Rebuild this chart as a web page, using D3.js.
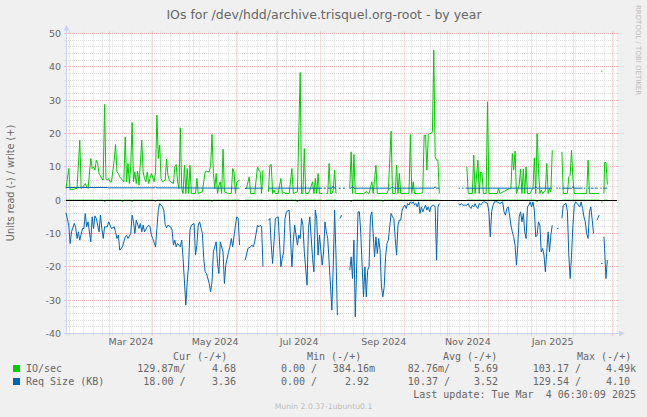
<!DOCTYPE html>
<html>
<head>
<meta charset="utf-8">
<script src="https://cdn.jsdelivr.net/npm/d3@7"></script>
<style>
    html, body { margin: 0; padding: 0; background: #F0F0F0; }
    svg { display: block; }
    text { font-family: "DejaVu Sans", sans-serif; fill: #666; }
    .mono { font-family: "DejaVu Sans Mono", monospace; white-space: pre; }
</style>
</head>
<body>
<svg id="chart" width="647" height="417"></svg>
<script>
// Time window of the year graph (400 days, ending at last update)
const startDate = new Date(2024, 0, 29, 6, 30);
const endDate = new Date(2025, 2, 4, 6, 30);

const yTicks = [-40, -30, -20, -10, 0, 10, 20, 30, 40, 50];
const labelMonths = [new Date(2024, 2, 1), new Date(2024, 4, 1), new Date(2024, 6, 1),
                     new Date(2024, 8, 1), new Date(2024, 10, 1), new Date(2025, 0, 1)];

// [day since start, value]; null = no data (breaks the line)
const ioWrite = [
    [0,3.5],[2,9.5],[3,3.2],[6,3.3],[8,3.6],[10,18],[11,3.5],[12,3.8],[14,5],[15,4],[16,3.5],[18,12.5],[19,9.5],[20,10],
    [21,9],[22,12],[23,11],[24,8],[26,6.5],[27,6],[28,28.7],[29,6.5],[30,6],[31,6.5],[32,5.5],[33,5.5],[35,12],[36,16.7],
    [37,8.5],[38,8],[39,7],[41,6],[42,5.5],[43,19],[44,5.5],[45,11],[46,5],[47,10.5],[48,23.3],[49,5.5],[50,8.5],[51,5],
    [52,8.7],[53,4.5],[55,18],[56,8.5],[57,6.5],[58,5.5],[59,8.5],[60,5],[61,6.5],[62,8],[64,5.5],[65,8.5],[66,25.5],
    [67,12.5],[68,16.5],[69,6.5],[70,5.5],[72,6],[73,12.3],[74,7.5],[75,6],[76,5.5],[78,5],[79,10],[80,10.7],[81,5.5],
    [82,3.5],[83,21.7],[84,3.5],[85,2],[86,10.5],[87,2],[88,9.5],[89,2],[90,10.5],[91,2],[94,2],[95,6.5],[96,2],[99,2.5],
    [101,8.5],[102,8.7],[104,8.5],[105,10.5],[106,19.7],[107,8],[108,3.5],[109,8],[110,2],[111,4.5],[112,5.5],[113,2],
    [114,15.3],[115,2.5],[118,2],[120,2],[121,9.5],[122,8.5],[123,2],[124,5.5],[126,6],
    null,
    [130,3.5],[131,3.5],[133,7],[134,2],[137,2],[139,10],[140,9],[141,8.5],[142,2],[143,9],
    null,
    [147,2.5],[148,10.5],[149,10.7],[150,2],[151,3],[152,2],[154,2],[156,6.5],[157,2],[158,2.5],[159,2],[162,2],[164,9.5],
    [165,2],[168,2.5],[170,38.3],[171,2],[172,2],[173,15.5],[174,2],[176,2],[177,3],[179,5.5],[180,2],[181,6.5],[182,2],
    [183,8],[184,2],[186,2],
    null,
    [189,2],[190,2],[191,11],[192,2],[193,2],[194,3],[195,9],[196,2],
    null,
    [206,3.5],[207,14.5],[208,2],[209,13.7],[210,2],[216,2],[218,2.5],[220,2],[222,5.5],[223,2],[225,10.5],[226,2],[233,2],
    [234,3],[236,20.7],[237,2],[239,2],[240,10.5],[241,2],[242,8],[243,2],[249,2],[250,19.7],[251,2],[252,5.5],[253,2],
    [258,2],[259,2.5],[260,19.5],[261,19.5],[262,9],[263,19.5],[264,20],[265,20],[266,20.5],[267,45],[268,13],[269,12],
    [270,12],[271,2],
    null,
    [291,10],[292,2],[295,2],[296,13.5],[297,2],[299,12],[300,2],[301,8.5],[302,8],[303,2],[305,2],[306,29.5],[307,2],
    [313,2],[314,3.5],[315,2],[322,3.5],[323,3.5],[324,14],[325,9],[326,14.7],[327,2],[329,4.5],[330,9.3],[331,2],[332,9.3],
    [333,2],[334,10],[335,2],[337,2],[338,3],[339,3.5],[340,12.7],[341,2],[342,20],[343,9.5],[344,2],[345,3],[346,2],
    [348,3],[349,11],[350,2],[351,3.5],[352,2.5],[353,15],
    null,
    [360,14.5],[361,2],[364,2],[365,7],[366,7.5],[367,15],[368,6.5],[369,2],[378,2],[379,12],[380,2],[387,2],
    null,
    [388.5,38.7],[389.5,38.7],
    null,
    [390.5,2],[391,11.3],[392,11.3],[393,4.7]
];

const ioRead = [
    [0,0],[27,0],[28,-0.5],[29,0],[40,0],[41,-0.5],[42,0],[47,0],[48,-0.4],[49,0],[64,0],[65,-0.5],[66,0],[105,0],
    [106,-0.4],[107,0],[126,0],
    null, [130,0],[143,0],
    null, [147,0],[167,0],[168,-0.5],[169,0],[186,0],
    null, [189,0],[196,0],
    null, [206,0],[207,-0.5],[208,0],[229,0],[230,-0.4],[231,0],[271,0],
    null, [291,0],[341,0],[342,-0.5],[343,0],[353,0],
    null, [360,0],[387,0],
    null, [388.5,-0.6],[389.5,-0.6],
    null, [390.5,0],[393,0]
];

const reqWrite = [
    [0,3.8],[30,3.8],[31,3.7],[64,3.7],[65,3.9],[66,3.7],[126,3.6],
    null, [130,3.6],[143,3.6],
    null, [147,3.6],[186,3.6],
    null, [187,3.6],[188.5,3.6],
    null, [190,3.6],[193,3.6],[194,4.2],[195,3.6],[196,3.6],
    null, [198,3.6],[199.5,3.6],
    null, [201,3.6],[202.5,3.6],
    null, [206,3.6],[207,3.6],[208,4.1],[209,3.6],[236,3.6],[237,4],[238,3.6],[267,3.6],[268,4],[269,3.6],[271,3.6],
    null, [285,3.6],[286,3.6],
    null, [287.5,3.6],[288.5,3.6],
    null, [290,3.6],[340,3.6],[341,4],[342,3.6],[353,3.6],
    null, [356,3.6],[357,3.6],
    null, [358,3.6],[359,3.6],
    null, [360,3.6],[367,3.6],[368,4],[369,3.6],[375,3.6],
    null, [376,3.6],[377,3.6],
    null, [379,3.6],[380,3.6],
    null, [381,3.6],[383,3.6],
    null, [384,3.6],[386,3.6],
    null, [388,3.6],[389,3.6],
    null, [390,3.6],[393,3.6]
];

const reqRead = [
    [0,-3.8],[2,-7.5],[3,-13],[4,-9.5],[6,-7],[7,-8],[8,-11.5],[9,-9.5],[10,-12],[12,-8.5],[13,-8.5],[14,-4],[15,-8],
    [16,-6.5],[18,-12.5],[19,-5],[20,-8.5],[21,-4.7],[22,-5.5],[24,-9.5],[25,-4.5],[26,-8.5],[27,-11.5],[28,-8],[30,-8],
    [31,-6.5],[32,-7.5],[33,-8.5],[35,-8],[36,-9.5],[37,-11.5],[38,-10.5],[39,-15],[41,-14],[42,-12.5],[43,-11],
    [44,-10.5],[45,-11.5],[47,-10],[48,-4.5],[49,-6.5],[50,-10],[51,-6],[53,-8.5],[54,-7],[55,-9.5],[56,-7.5],[57,-9.5],
    [59,-8],[60,-7.5],[61,-8],[62,-10.5],[63,-11.5],[65,-14],[66,-8.5],[67,-3],[68,-1],[70,-2],[71,-3],[72,-7.3],
    [73,-8.3],[74,-7.5],[76,-8],[77,-9],[78,-13.5],[79,-12],[80,-14],[81,-13],[82,-13.5],[83,-14],[84,-12],[85,-17.5],
    [87,-31.5],[88,-24.5],[89,-19.5],[90,-9],[91,-7.5],[93,-7],[94,-16.5],[95,-13.5],[96,-7.5],[97,-6.5],[99,-10],
    [100,-17.5],[101,-21.5],[102,-22],[104,-25],[105,-27.5],[106,-24.5],[107,-15.5],[109,-12.5],[110,-19],[111,-22],
    [112,-12.5],[114,-15.5],[115,-25],[116,-19.5],[118,-15.5],[119,-14],[120,-11.5],[121,-14],[123,-7.5],[124,-5],
    [125,-5.5],[126,-13.5],
    null,
    [130,-18],[131,-16.5],[132,-14.5],[134,-14],[135,-13.5],[136,-14],[137,-12.5],[139,-7.5],[140,-8],[141,-7.5],
    [142,-8],[143,-20],
    null,
    [147,-6],[148,-5.5],[149,-13.5],[150,-19],[151,-12.5],[152,-5.5],[154,-5],[155,-12.5],[156,-20],[157,-17.5],
    [158,-15.5],[159,-5.5],[160,-3.5],[162,-3],[163,-11.5],[164,-20],[165,-12.5],[166,-7.5],[168,-13.5],[169,-10.5],
    [170,-11.5],[171,-5.5],[172,-7.5],[173,-15.5],[175,-25.5],[176,-8.5],[177,-5],[179,-17.5],[180,-21.5],[181,-3],
    [182,-5.5],[183,-16.5],[184,-10.5],[186,-19.5],[187,-15.5],[188,-6.5],[189,-9.5],[190,-11.5],[192,-25.5],[193,-33],
    [194,-19.5],[195,-3],[196,-16.5],[197,-34.5],
    null,
    [199,-5.5],[200,-4.5],
    null,
    [206,-21],[207,-17],[208,-23.5],[209,-12],[210,-35],[211,-20],[212,-3.5],[213,-3.5],[214,-10],[215,-20],[216,-29],
    [217,-20],[218,-29],[219,-21],[220,-20],[221,-5],[222,-3.5],[223,-10],[224,-17],[225,-11],[226,-16],[227,-11.5],
    [228,-15],[229,-26],[230,-29],[231,-26],[232,-17],[233,-13],[234,-12],[235,-8],[236,-4],[237,-5],[238,-5.5],
    [239,-11.5],[240,-16.5],[241,-7.5],[242,-6],[243,-6],[244,-3],[245,-2],[246,-1.5],[247,-2.5],[248,-1],[249,-1.5],
    [250,-0.5],[251,-1],[252,-0.5],[253,-1.5],[254,-1],[255,-2],[256,-0.5],[257,-4],[258,-2],[259,-3.5],[260,-2.5],
    [261,-1.5],[262,-3],[263,-2],[264,-3.5],[265,-2],[266,-1.5],[267,-1.5],[268,-2],[269,-18],[270,-2],[271,-1],
    null,
    [285,-1],[286,-1.5],[287,-1],[288,-1.5],[289,-1.5],[290,-1.5],[291,-1.5],[292,-1],[293,-2],[294,-2.5],[295,-1.5],
    [296,-2],[297,-1],[298,-2],[299,-2.5],[300,-1],[301,-1.5],[302,-1],[303,-0.5],[304,-0.5],[306,-1],[307,-3.5],
    [308,-11],[309,-3.5],[310,-1.5],[311,-0.5],[313,-0.5],[315,-1],[317,-0.5],[318,-3.5],[319,-4.5],[320,-2.5],[321,-2],
    [322,-4.5],[323,-7.5],[324,-9.5],[325,-11],[326,-13.5],[327,-19.5],[328,-13.5],[329,-5],[330,-3.5],[331,-6.5],
    [332,-4],[333,-9.5],[334,-11.5],[335,-2],[336,-1.5],[337,-0.5],[338,-2],[339,-0.5],[340,-3],[341,-11],[342,-10.5],
    [343,-6.5],[344,-7.5],[345,-15.5],[346,-14.5],[347,-16.5],[348,-21.5],[349,-15.5],[350,-9.5],[351,-15.5],
    [352,-10.5],[353,-7.5],
    null,
    [356.5,-8.5],[357.5,-8.5],
    null,
    [360,-5.5],[361,-1.5],[363,-1],[364,-3.5],[365,-16.5],[366,-23.5],[367,-16.5],[368,-7.5],[369,-1.5],[370,-0.5],
    [371,-1],[373,-2],[374,-0.5],[375,-2.5],[376,-5],[377,-6.5],[378,-10],[379,-11.5],[380,-3.5],[381,-2],[382,-6],
    [383,-10],
    null,
    [385.5,-6],[387,-4.5],
    null,
    [388.5,-19],[389.5,-19],
    null,
    [390.5,-11],[391,-14.5],[392,-23.5],[393,-18]
];

// Legend (munin GPRINT columns)
const legendHeads = ["Cur (-/+)", "Min (-/+)", "Avg (-/+)", "Max (-/+)"];
const seriesNames = ["IO/sec", "Req Size (KB)"];
const seriesColors = ["#00CC00", "#0066B3"];
const ioStats = ["129.87m/", "4.68 ", "0.00 /", "384.16m", "82.76m/", "5.69 ", "103.17 /", "4.49k"];
const reqStats = ["18.00 /", "3.36 ", "0.00 /", "2.92 ", "10.37 /", "3.52 ", "129.54 /", "4.10 "];

const svg = d3.select("#chart");
const W = 647, H = 417;
const plotL = 66, plotR = 617, plotT = 33.5, plotB = 333.5;
const minorCol = "#dedede", majorCol = "#f2baba", axisCol = "#cbd2f6";

svg.append("rect").attr("width", W).attr("height", H).attr("fill", "#F0F0F0");
svg.append("rect").attr("x", plotL).attr("y", plotT).attr("width", plotR - plotL).attr("height", plotB - plotT)
    .attr("fill", "#fff");

const x = d3.scaleTime().domain([startDate, endDate]).range([plotL, plotR]);
const y = d3.scaleLinear().domain([-40, 50]).range([plotB, plotT]);
const snap = v => Math.round(v - 0.5) + 0.5;
const dayDate = d => new Date(+startDate + d * 864e5);

// Grid
const grid = svg.append("g");
d3.range(-40, 51, 2).forEach(v => {
    const major = v % 10 === 0;
    const yy = snap(y(v));
    const c = major ? majorCol : minorCol;
    grid.append("line").attr("x1", plotL).attr("x2", plotR).attr("y1", yy).attr("y2", yy)
        .attr("stroke", c).attr("stroke-dasharray", "1,1");
    grid.append("line").attr("x1", plotL - 2).attr("x2", plotL).attr("y1", yy).attr("y2", yy).attr("stroke", c);
    grid.append("line").attr("x1", plotR).attr("x2", plotR + 2).attr("y1", yy).attr("y2", yy).attr("stroke", c);
});

const months = d3.timeMonth.range(startDate, endDate);
const monthKeys = new Set(months.map(d => +d));
const weeks = d3.timeSunday.range(startDate, endDate).filter(d => !monthKeys.has(+d));

function vline(d, c) {
    const xx = snap(x(d));
    grid.append("line").attr("x1", xx).attr("x2", xx).attr("y1", plotT).attr("y2", plotB)
        .attr("stroke", c).attr("stroke-dasharray", "1,1");
    grid.append("line").attr("x1", xx).attr("x2", xx).attr("y1", plotB).attr("y2", plotB + 2).attr("stroke", c);
    grid.append("line").attr("x1", xx).attr("x2", xx).attr("y1", plotT - 2).attr("y2", plotT).attr("stroke", c);
}
weeks.forEach(d => vline(d, minorCol));
months.forEach(d => vline(d, majorCol));

// Axes with arrows
svg.append("line").attr("x1", plotL + 0.5).attr("x2", plotL + 0.5).attr("y1", plotB + 2).attr("y2", 28)
    .attr("stroke", axisCol);
svg.append("line").attr("x1", plotL - 2).attr("x2", 621).attr("y1", plotB).attr("y2", plotB)
    .attr("stroke", axisCol);
svg.append("path").attr("d", `M${plotL - 2.5},30.5 L${plotL + 3.5},30.5 L${plotL + 0.5},25 Z`).attr("fill", axisCol);
svg.append("path").attr("d", `M619,${plotB - 3} L619,${plotB + 3} L625,${plotB} Z`).attr("fill", axisCol);

// Series lines
const line = d3.line()
    .defined(d => d !== null)
    .x(d => x(dayDate(d[0])))
    .y(d => y(d[1]));

const plot = svg.append("g");
plot.append("path").datum(ioRead).attr("d", line).attr("fill", "none").attr("stroke", "#00CC00");
plot.append("path").datum(ioWrite).attr("d", line).attr("fill", "none").attr("stroke", "#00CC00");
plot.append("path").datum(reqRead).attr("d", line).attr("fill", "none").attr("stroke", "#0066B3");
plot.append("path").datum(reqWrite).attr("d", line).attr("fill", "none").attr("stroke", "#0066B3");

// zero line
const y0 = snap(y(0));
svg.append("line").attr("x1", plotL).attr("x2", plotR).attr("y1", y0).attr("y2", y0)
    .attr("stroke", "#000");

// Y tick labels
svg.append("g").selectAll("text").data(yTicks).enter().append("text")
    .attr("x", 61).attr("y", d => y(d) + 3.5)
    .attr("text-anchor", "end").style("font-size", "9.5px")
    .text(d => d);

// X labels centred on the month
const fmt = d3.timeFormat("%b %Y");
svg.append("g").selectAll("text").data(labelMonths).enter().append("text")
    .attr("x", d => (x(d) + x(d3.timeMonth.offset(d, 1))) / 2)
    .attr("y", 345)
    .attr("text-anchor", "middle").style("font-size", "9.5px")
    .text(d => fmt(d));

// Titles
svg.append("text").attr("x", 324).attr("y", 18.5).attr("text-anchor", "middle")
    .style("font-size", "12.5px").text("IOs for /dev/hdd/archive.trisquel.org-root - by year");
svg.append("text").attr("transform", "translate(13.5,183) rotate(-90)").attr("text-anchor", "middle")
    .style("font-size", "9.7px").text("Units read (-) / write (+)");
svg.append("text").attr("transform", "translate(636,5) rotate(90)").attr("text-anchor", "start")
    .style("font-size", "7px").style("fill", "#bbb").text("RRDTOOL / TOBI OETIKER");

// Legend
const headX = [173, 307, 443, 577];
const statEnd = [185.5, 242, 317, 375, 450, 504, 581, 636];
const rowY = [372, 385];
const lg = svg.append("g");
lg.selectAll("text.head").data(legendHeads).enter().append("text")
    .attr("class", "mono head").attr("x", (d, i) => headX[i]).attr("y", 359.5)
    .style("font-size", "10px").text(d => d);

[ioStats, reqStats].forEach((stats, r) => {
    lg.append("rect").attr("x", 13).attr("y", rowY[r] - 7).attr("width", 7).attr("height", 7)
        .attr("fill", seriesColors[r]);
    lg.append("text").attr("class", "mono").attr("x", 26).attr("y", rowY[r])
        .style("font-size", "10px").text(seriesNames[r]);
    stats.forEach((s, i) => {
        lg.append("text").attr("class", "mono").attr("x", statEnd[i]).attr("y", rowY[r])
            .attr("text-anchor", "end").style("font-size", "10px").text(s);
    });
});

svg.append("text").attr("class", "mono").attr("x", 636).attr("y", 397.5).attr("text-anchor", "end")
    .style("font-size", "10px").text("Last update: Tue Mar  4 06:30:09 2025");

svg.append("text").attr("x", 323.5).attr("y", 409).attr("text-anchor", "middle")
    .style("font-size", "7.7px").style("fill", "#bbb").text("Munin 2.0.37-1ubuntu0.1");
</script>
</body>
</html>
